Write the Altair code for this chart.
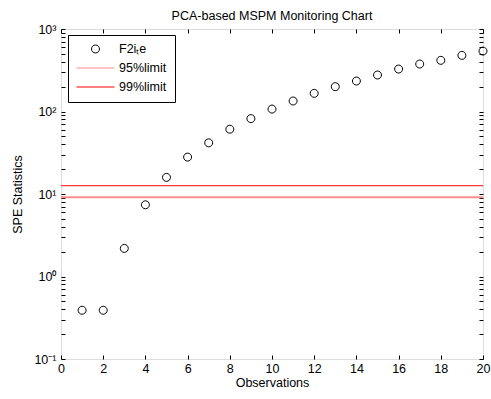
import altair as alt
import pandas as pd

# ---- data ----
observations = list(range(1, 21))
spe_values = [0.39, 0.39, 2.19, 7.4, 15.9, 28, 41.7, 61, 82, 107,
              134, 166, 200, 234, 277, 327, 376, 417, 479, 540]
limit_95 = [9.15]
limit_99 = [12.6]
series_names = ["F2iₜe", "95%limit", "99%limit"]
series_colors = ["#000000", "#ff8c8c", "#ff0000"]
x_ticks = list(range(0, 21, 2))
y_major = [0.1, 1, 10, 100, 1000]
y_all_ticks = [m * 10.0 ** e for e in range(-1, 3) for m in range(1, 10)] + [1000]

W, H = 422, 330
FONT = "Liberation Sans"
FS = 12.5

pts = pd.DataFrame({"obs": observations, "spe": spe_values, "series": series_names[0]})
df95 = pd.DataFrame({"limit": limit_95})
df99 = pd.DataFrame({"limit": limit_99})

xscale = alt.Scale(domain=[0, 20], nice=False, zero=False)
yscale = alt.Scale(type="log", domain=[0.1, 1000], nice=False)

circle_path = "M0.21,0A0.21,0.21 0 1,1 -0.21,0A0.21,0.21 0 1,1 0.21,0Z"
line_path = "M-1,0H1"

sup_expr = ("datum.value < 0.5 ? '10⁻¹' : datum.value < 5 ? '10⁰' : "
            "datum.value < 50 ? '10¹' : datum.value < 500 ? '10²' : '10³'")

leg = alt.Legend(title=None, orient="none", legendX=7, legendY=6,
                 fillColor="white", strokeColor="black", padding=8,
                 symbolSize=1444, symbolStrokeWidth=1, clipHeight=12,
                 rowPadding=6, labelFont=FONT, labelFontSize=FS,
                 labelColor="black", labelOffset=4, symbolType="stroke")

points = alt.Chart(pts).mark_point(filled=False, size=1444, strokeWidth=1, opacity=1).encode(
    x=alt.X("obs:Q", scale=xscale,
            axis=alt.Axis(values=x_ticks, title="Observations", tickSize=0, domain=False,
                          grid=False, labelFlush=False, labelPadding=3, labelFont=FONT,
                          labelFontSize=FS, labelColor="black", titleFont=FONT,
                          titleFontSize=FS, titleFontWeight="normal", titleColor="black",
                          titlePadding=2)),
    y=alt.Y("spe:Q", scale=yscale,
            axis=alt.Axis(values=y_major, labelExpr=sup_expr, title="SPE Statistics",
                          tickSize=0, domain=False, grid=False, labelPadding=5,
                          labelFont=FONT, labelFontSize=FS, labelColor="black",
                          titleFont=FONT, titleFontSize=FS, titleFontWeight="normal",
                          titleColor="black", titlePadding=9)),
    color=alt.Color("series:N", scale=alt.Scale(domain=series_names, range=series_colors), legend=leg),
    shape=alt.Shape("series:N", scale=alt.Scale(domain=series_names,
                                                range=[circle_path, line_path, line_path]), legend=leg),
)

rule95 = alt.Chart(df95).mark_rule(color="#ff8c8c", strokeWidth=2).encode(
    y=alt.Y("limit:Q", scale=yscale, axis=None))
rule99 = alt.Chart(df99).mark_rule(color="#ff0000", strokeWidth=1).encode(
    y=alt.Y("limit:Q", scale=yscale, axis=None))

tick_common = dict(labels=False, domain=False, grid=False, title=None,
                   tickColor="black", tickWidth=1)

ticks_a = alt.Chart(pts).mark_point(opacity=0).encode(
    x=alt.X("obs:Q", scale=xscale,
            axis=alt.Axis(orient="top", offset=-H, values=x_ticks, tickSize=4, **tick_common)),
    y=alt.Y("spe:Q", scale=yscale,
            axis=alt.Axis(orient="right", offset=-W, values=y_all_ticks, tickSize=4, **tick_common)),
)
ticks_b = alt.Chart(pts).mark_point(opacity=0).encode(
    x=alt.X("obs:Q", scale=xscale,
            axis=alt.Axis(orient="bottom", offset=-H, values=x_ticks, tickSize=4, **tick_common)),
    y=alt.Y("spe:Q", scale=yscale,
            axis=alt.Axis(orient="left", offset=-W, values=y_all_ticks, tickSize=4, **tick_common)),
)

chart = alt.layer(rule95, rule99, ticks_a, ticks_b, points).resolve_axis(
    x="independent", y="independent"
).properties(
    width=W, height=H,
    autosize=alt.AutoSizeParams(type="none"),
    padding={"left": 61, "top": 29, "right": 8, "bottom": 40},
    title=alt.Title("PCA-based MSPM Monitoring Chart", font=FONT, fontSize=FS,
                    fontWeight="normal", color="black", anchor="middle", offset=1),
).configure_view(stroke="black", strokeWidth=1).configure(background="white")

chart.save("out.html", embed_options={"renderer": "svg", "actions": False})
